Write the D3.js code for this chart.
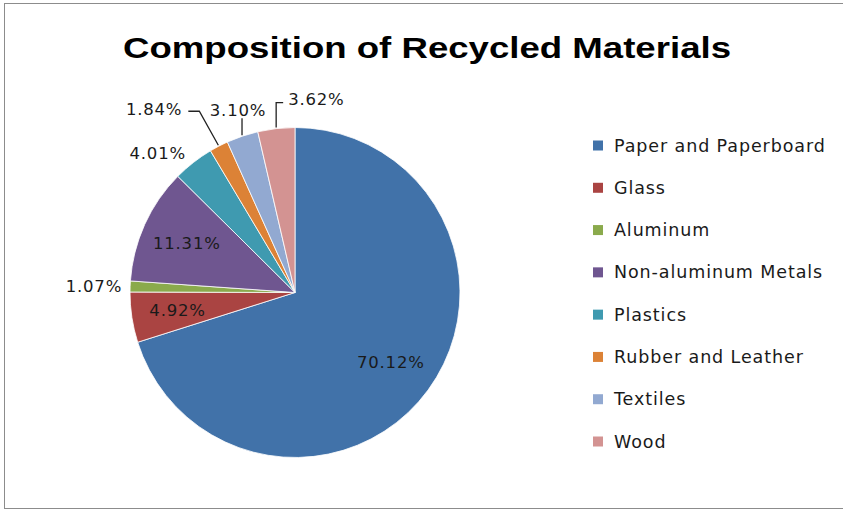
<!DOCTYPE html>
<html><head><meta charset="utf-8">
<script src="https://cdn.jsdelivr.net/npm/d3@7"></script>
<style>html,body{margin:0;padding:0;background:#fff;}svg{display:block;}</style>
</head><body>
<svg id="chart" width="843" height="510"></svg>
<script>
const categories = ["Paper and Paperboard","Glass","Aluminum","Non-aluminum Metals","Plastics","Rubber and Leather","Textiles","Wood"];
const values = [70.12, 4.92, 1.07, 11.31, 4.01, 1.84, 3.10, 3.62];
const colors = ["#4172A9","#AA4442","#8AAA4C","#6F5690","#3F9AB0","#DC8236","#92A9D1","#D39392"];
const titleText = "Composition of Recycled Materials";

// label placement styles (layout only)
const labelMode = ["in","in","out","in","out","lead1","lead2","lead3"];

const svg = d3.select("#chart");
svg.append("rect").attr("x",4.5).attr("y",3.5).attr("width",860).attr("height",505)
  .attr("fill","#fff").attr("stroke","#8c8c8c").attr("stroke-width",1);

svg.append("text").attr("x",427).attr("y",58).attr("text-anchor","middle")
  .attr("font-family","'Liberation Sans', Arial, sans-serif").attr("font-weight","bold")
  .attr("font-size",29).attr("fill","#000")
  .attr("textLength",608).attr("lengthAdjust","spacingAndGlyphs")
  .text(titleText);

const cx = 295, cy = 292.5, r = 165;
const data = categories.map((c,i)=>({cat:c, value:values[i], color:colors[i], mode:labelMode[i]}));
const pie = d3.pie().sort(null).value(d=>d.value);
const arcs = pie(data);
const arc = d3.arc().innerRadius(0).outerRadius(r);
const g = svg.append("g").attr("transform",`translate(${cx},${cy})`);
g.selectAll("path").data(arcs).join("path")
  .attr("d",arc).attr("fill",d=>d.data.color)
  .attr("stroke","#fff").attr("stroke-width",0.8);

const fmt = v => d3.format(".2f")(v) + "%";
const lblFont = "'DejaVu Sans', Verdana, sans-serif";
const lblSize = 16.5;
const mid = d => (d.startAngle + d.endAngle)/2;
const pt = (a, rad) => [rad*Math.sin(a), -rad*Math.cos(a)];

arcs.forEach(d=>{
  const a = mid(d);
  const txt = fmt(d.data.value);
  const t = g.append("text").attr("font-family",lblFont).attr("font-size",lblSize)
    .attr("letter-spacing",0.8).attr("fill","#1a1a1a").text(txt);
  if (d.data.mode === "in") {
    const [x,y] = pt(a, r*0.72);
    t.attr("x",x).attr("y",y).attr("text-anchor","middle").attr("dy","0.35em");
  } else if (d.data.mode === "out") {
    const [x,y] = pt(a, r + (a > 5.5 ? 12 : 8));
    t.attr("x",x).attr("y",y).attr("text-anchor","end").attr("dy","0.35em");
  } else {
    const [ex,ey] = pt(a, r+1);
    let pts, lx, ly, anchor;
    if (d.data.mode === "lead1") {
      pts = [[ex,ey],[ex-19,ey-34],[ex-30,ey-34]];
      lx = ex-36; ly = ey-36; anchor = "end";
    } else if (d.data.mode === "lead2") {
      pts = [[ex,ey],[ex,ey-17]];
      lx = ex-4; ly = ey-25; anchor = "middle";
    } else {
      pts = [[ex,ey],[ex,ey-25],[ex+7,ey-25]];
      lx = ex+12; ly = ey-28; anchor = "start";
    }
    g.append("path").attr("d",d3.line()(pts)).attr("fill","none")
      .attr("stroke","#222").attr("stroke-width",1.3);
    t.attr("x",lx).attr("y",ly).attr("text-anchor",anchor).attr("dy","0.35em");
  }
});

// legend
const leg = svg.append("g").attr("transform","translate(593,145.5)");
const ly = d3.scalePoint().domain(categories).range([0, 296]);
const items = leg.selectAll("g").data(data).join("g")
  .attr("transform",d=>`translate(0,${ly(d.cat)})`);
items.append("rect").attr("x",0).attr("y",-5).attr("width",10).attr("height",10).attr("fill",d=>d.color);
items.append("text").attr("x",21).attr("y",0).attr("dy","0.35em")
  .attr("font-family",lblFont).attr("font-size",17.5).attr("letter-spacing",0.9)
  .attr("fill","#1a1a1a").text(d=>d.cat);
</script>
</body></html>
